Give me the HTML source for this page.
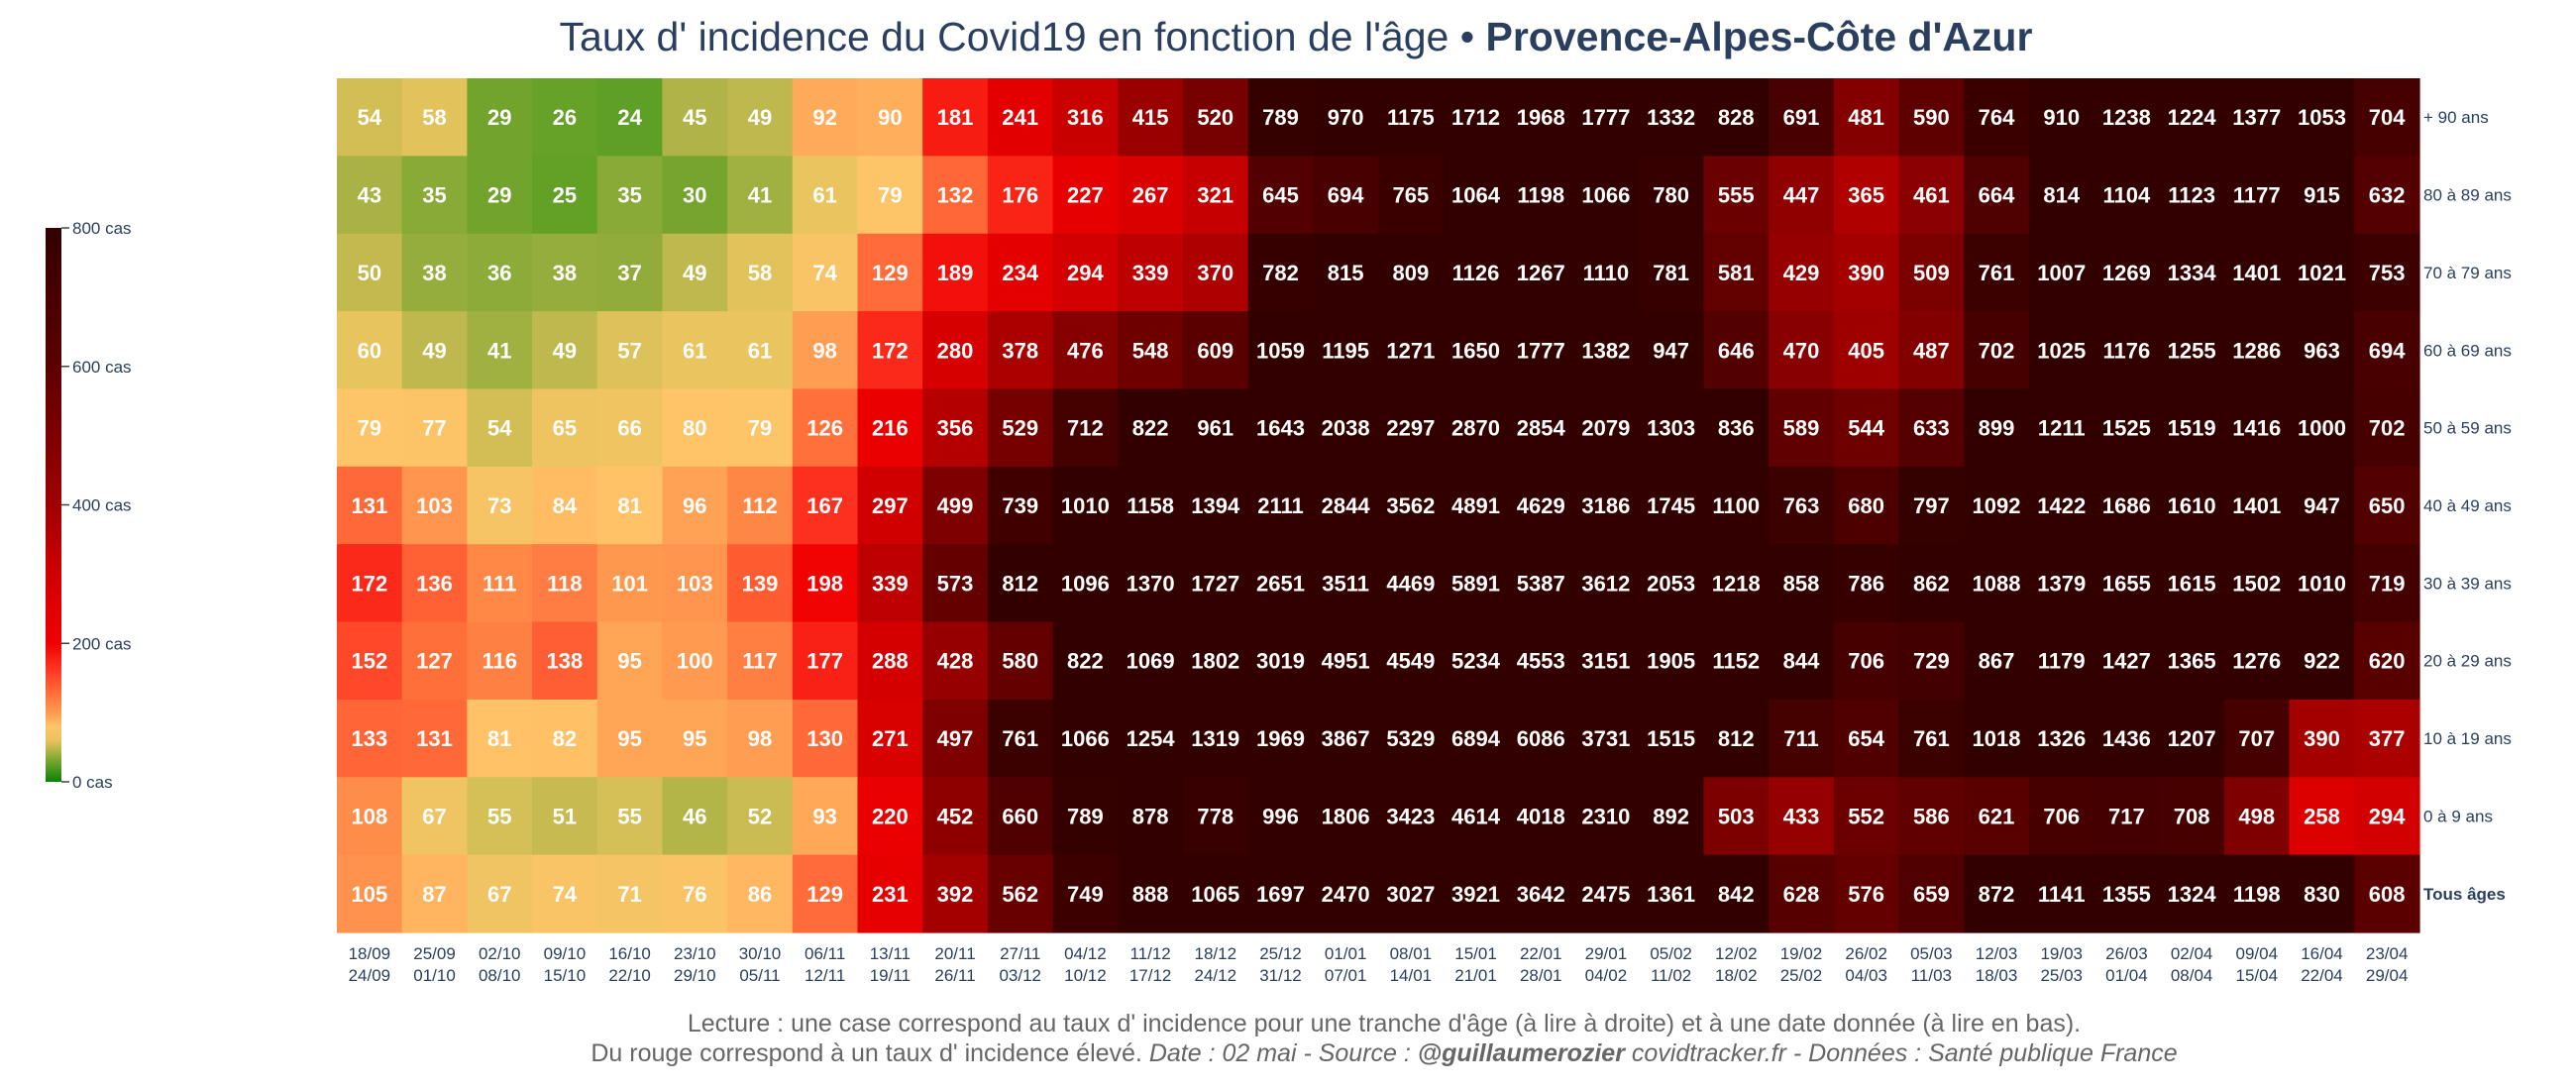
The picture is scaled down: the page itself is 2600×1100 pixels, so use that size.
<!DOCTYPE html>
<html><head><meta charset="utf-8">
<style>
html,body{margin:0;padding:0;background:#fff;}
svg{display:block;font-family:"Liberation Sans",sans-serif;}
</style></head>
<body>
<svg id="chart" width="2600" height="1100" viewBox="0 0 2600 1100">
<defs>
<linearGradient id="cbgrad" x1="0" y1="1" x2="0" y2="0">
<stop offset="0" stop-color="#0a800a"/>
<stop offset="0.031" stop-color="#62a026"/>
<stop offset="0.056" stop-color="#b0b448"/>
<stop offset="0.075" stop-color="#e8c45e"/>
<stop offset="0.1" stop-color="#ffc468"/>
<stop offset="0.125" stop-color="#ff9a50"/>
<stop offset="0.163" stop-color="#ff6a38"/>
<stop offset="0.2" stop-color="#ff3a25"/>
<stop offset="0.25" stop-color="#f00000"/>
<stop offset="0.375" stop-color="#d00000"/>
<stop offset="0.5" stop-color="#a00000"/>
<stop offset="0.75" stop-color="#5c0000"/>
<stop offset="1" stop-color="#330000"/>
</linearGradient>
</defs>
<text x="1308" y="51" text-anchor="middle" font-size="41" fill="#2a3f5f">Taux d' incidence du Covid19 en fonction de l'âge • <tspan font-weight="bold">Provence-Alpes-Côte d'Azur</tspan></text>
<g id="cells"></g>
<g id="ylabels"></g>
<g id="xlabels"></g>
<g>
<rect x="46" y="230" width="16" height="559" fill="url(#cbgrad)"/>
<g id="cbticks"></g>
</g>
<text x="1397" y="1041" text-anchor="middle" font-size="25" fill="#666">Lecture : une case correspond au taux d' incidence pour une tranche d'âge (à lire à droite) et à une date donnée (à lire en bas).</text>
<text x="1397" y="1071" text-anchor="middle" font-size="25" fill="#666">Du rouge correspond à un taux d' incidence élevé.  <tspan font-style="italic">Date : 02 mai - Source : <tspan font-weight="bold">@guillaumerozier</tspan> covidtracker.fr - Données : Santé publique France</tspan></text>
</svg>
<script>
const startDates=["18/09","25/09","02/10","09/10","16/10","23/10","30/10","06/11","13/11","20/11","27/11","04/12","11/12","18/12","25/12","01/01","08/01","15/01","22/01","29/01","05/02","12/02","19/02","26/02","05/03","12/03","19/03","26/03","02/04","09/04","16/04","23/04"];
const endDates=["24/09","01/10","08/10","15/10","22/10","29/10","05/11","12/11","19/11","26/11","03/12","10/12","17/12","24/12","31/12","07/01","14/01","21/01","28/01","04/02","11/02","18/02","25/02","04/03","11/03","18/03","25/03","01/04","08/04","15/04","22/04","29/04"];
const ageGroups=["+ 90 ans","80 à 89 ans","70 à 79 ans","60 à 69 ans","50 à 59 ans","40 à 49 ans","30 à 39 ans","20 à 29 ans","10 à 19 ans","0 à 9 ans","Tous âges"];
const row90=[54,58,29,26,24,45,49,92,90,181,241,316,415,520,789,970,1175,1712,1968,1777,1332,828,691,481,590,764,910,1238,1224,1377,1053,704];
const row80=[43,35,29,25,35,30,41,61,79,132,176,227,267,321,645,694,765,1064,1198,1066,780,555,447,365,461,664,814,1104,1123,1177,915,632];
const row70=[50,38,36,38,37,49,58,74,129,189,234,294,339,370,782,815,809,1126,1267,1110,781,581,429,390,509,761,1007,1269,1334,1401,1021,753];
const row60=[60,49,41,49,57,61,61,98,172,280,378,476,548,609,1059,1195,1271,1650,1777,1382,947,646,470,405,487,702,1025,1176,1255,1286,963,694];
const row50=[79,77,54,65,66,80,79,126,216,356,529,712,822,961,1643,2038,2297,2870,2854,2079,1303,836,589,544,633,899,1211,1525,1519,1416,1000,702];
const row40=[131,103,73,84,81,96,112,167,297,499,739,1010,1158,1394,2111,2844,3562,4891,4629,3186,1745,1100,763,680,797,1092,1422,1686,1610,1401,947,650];
const row30=[172,136,111,118,101,103,139,198,339,573,812,1096,1370,1727,2651,3511,4469,5891,5387,3612,2053,1218,858,786,862,1088,1379,1655,1615,1502,1010,719];
const row20=[152,127,116,138,95,100,117,177,288,428,580,822,1069,1802,3019,4951,4549,5234,4553,3151,1905,1152,844,706,729,867,1179,1427,1365,1276,922,620];
const row10=[133,131,81,82,95,95,98,130,271,497,761,1066,1254,1319,1969,3867,5329,6894,6086,3731,1515,812,711,654,761,1018,1326,1436,1207,707,390,377];
const row0=[108,67,55,51,55,46,52,93,220,452,660,789,878,778,996,1806,3423,4614,4018,2310,892,503,433,552,586,621,706,717,708,498,258,294];
const rowAll=[105,87,67,74,71,76,86,129,231,392,562,749,888,1065,1697,2470,3027,3921,3642,2475,1361,842,628,576,659,872,1141,1355,1324,1198,830,608];
const cbTicks=[0,200,400,600,800];

const rows=[row90,row80,row70,row60,row50,row40,row30,row20,row10,row0,rowAll];
const NS="http://www.w3.org/2000/svg";
const X0=340,X1=2442,Y0=79,Y1=941,CBT=230,CBB=789;
const cw=(X1-X0)/startDates.length, rh=(Y1-Y0)/ageGroups.length;
const xPos=i=>X0+i*cw;
const yPos=j=>Y0+j*rh;
const cbY=v=>CBB-(v/800)*(CBB-CBT);
const stops=[[0,[10,128,10]],[25,[98,160,38]],[45,[176,180,72]],[60,[232,196,94]],[80,[255,196,104]],[100,[255,154,80]],[130,[255,106,56]],[160,[255,58,37]],[200,[240,0,0]],[300,[208,0,0]],[400,[160,0,0]],[600,[92,0,0]],[800,[51,0,0]]];
function color(v){
  v=Math.min(800,Math.max(0,v));
  for(let k=1;k<stops.length;k++){
    if(v<=stops[k][0]){
      const [a,ca]=stops[k-1],[b,cb]=stops[k],t=(v-a)/(b-a);
      return "rgb("+ca.map((c,i)=>Math.round(c+(cb[i]-c)*t)).join(",")+")";
    }
  }
  return "rgb(51,0,0)";
}
function mk(tag,attrs,parent){const e=document.createElementNS(NS,tag);for(const k in attrs)e.setAttribute(k,attrs[k]);parent.appendChild(e);return e;}
const gc=document.getElementById("cells");
rows.forEach((r,j)=>{
  r.forEach((v,i)=>{
    const rc=mk("rect",{x:xPos(i),y:yPos(j),width:cw+0.6,height:rh+0.6,fill:color(v)},gc);
    
    
    const t=mk("text",{x:xPos(i)+cw/2,y:yPos(j)+rh/2+8,"text-anchor":"middle","font-size":"22","font-weight":"bold",fill:"#fff"},gc);
    
    
    t.textContent=v;
  });
});
const gy=document.getElementById("ylabels");
ageGroups.forEach((a,j)=>{
  const t=mk("text",{x:X1+4,y:yPos(j)+rh/2+6,"font-size":"17",fill:"#2a3f5f","font-weight":j===ageGroups.length-1?"bold":"normal"},gy);
  
  
  t.textContent=a;
});
const gx=document.getElementById("xlabels");
startDates.forEach((d,i)=>{
  const t=mk("text",{x:xPos(i)+cw/2,y:968,"text-anchor":"middle","font-size":"17",fill:"#2a3f5f"},gx);
  
  
  t.textContent=d;
  const t2=mk("text",{x:xPos(i)+cw/2,y:990,"text-anchor":"middle","font-size":"17",fill:"#2a3f5f"},gx);
  
  
  t2.textContent=endDates[i];
});
const gt=document.getElementById("cbticks");
cbTicks.forEach(v=>{
  const l=mk("line",{x1:62,x2:70,y1:cbY(v),y2:cbY(v),stroke:"#444","stroke-width":"1.5"},gt);
  
  
  const t=mk("text",{x:73,y:cbY(v)+6,"font-size":"17",fill:"#2a3f5f"},gt);
  
  
  t.textContent=v+" cas";
});
</script>
</body></html>
